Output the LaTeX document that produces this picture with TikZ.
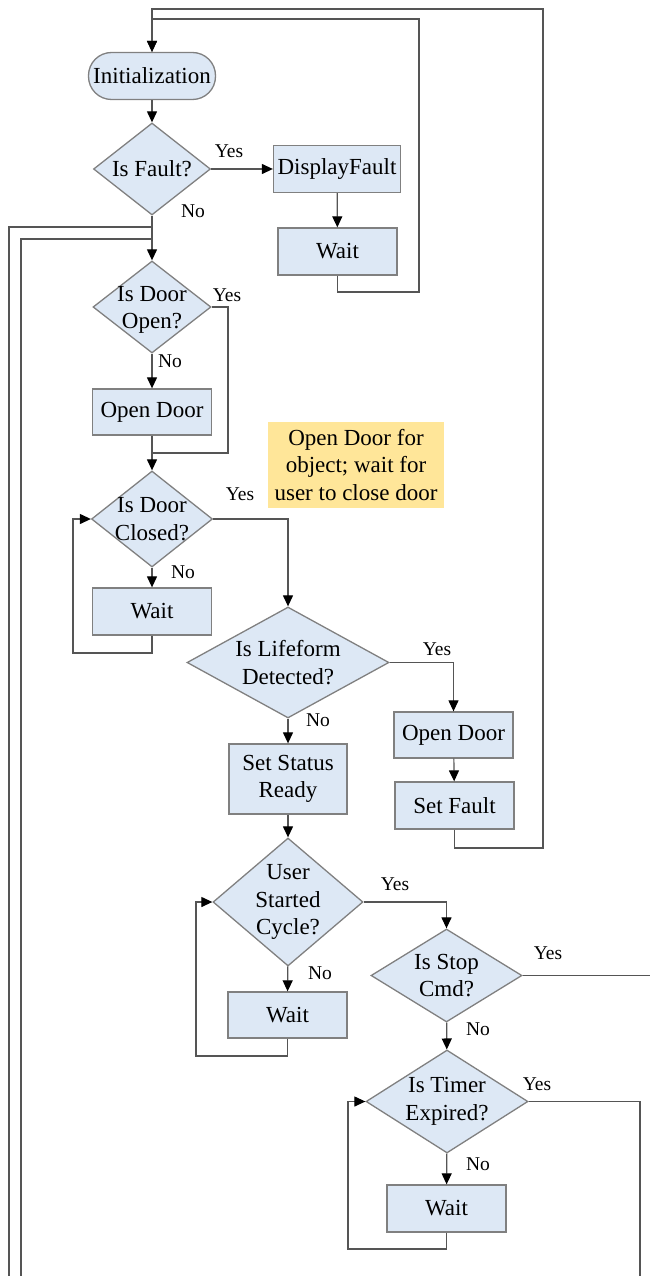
\documentclass[tikz,border=0pt]{standalone}
\usepackage{fontspec}
\setmainfont{Liberation Serif}
\usetikzlibrary{shapes.geometric,arrows.meta}
\definecolor{boxfill}{HTML}{DDE8F5}
\definecolor{boxline}{HTML}{808080}
\definecolor{wire}{HTML}{555555}
\definecolor{notefill}{HTML}{FFE699}
\begin{document}
\begin{tikzpicture}[x=1pt,y=-1pt,
  every node/.style={inner sep=0pt, font=\fontsize{23}{27.5}\selectfont},
  procbox/.style={rectangle, draw=boxline, fill=boxfill, line width=1.3pt,
    minimum width=119pt, minimum height=47pt, align=center},
  term/.style={rectangle, rounded corners=23pt, draw=boxline, fill=boxfill,
    line width=1.3pt, minimum width=127pt, minimum height=47pt},
  decision/.style={diamond, draw=boxline, fill=boxfill, line width=1.3pt},
  note/.style={rectangle, fill=notefill, minimum width=176pt, minimum height=86pt, align=center},
  answer/.style={font=\fontsize{19.5}{22}\selectfont},
  conn/.style={draw=wire, line width=1.2pt},
  arr/.style={conn, -{Triangle[length=11pt,width=10pt,color=black,fill=black]}}
]
\useasboundingbox (0,0) rectangle (649,1276);

% ---- nodes ----
\node[term] (init) at (152,76) {Initialization};
\node[decision, minimum width=117pt, minimum height=92pt,
  label={center:Is Fault?}] (fault) at (152,169) {};
\node[procbox, minimum width=127pt] (disp) at (337,169) {DisplayFault};
\node[procbox] (waitA) at (337.5,251.5) {Wait};

\node[decision, minimum width=118pt, minimum height=92pt,
  label={[align=center,yshift=-3pt]center:{Is Door\\Open?}}] (dopen) at (152,307) {};
\node[procbox, minimum height=46pt] (opendoor) at (152,412) {Open Door};
\node[decision, minimum width=121pt, minimum height=96pt,
  label={[align=center]center:{Is Door\\Closed?}}] (dclosed) at (152,519) {};
\node[procbox] (waitB) at (152,611.5) {Wait};

\node[note] (note) at (356,465) {Open Door for\\object; wait for\\user to close door};

\node[decision, minimum width=202pt, minimum height=111pt,
  label={[align=center]center:{Is Lifeform\\Detected?}}] (life) at (288,662.5) {};
\node[procbox, minimum width=118pt, minimum height=70pt] (ready) at (288,779) {Set Status\\Ready};
\node[procbox, minimum height=46pt] (opendoorB) at (453.5,735) {Open Door};
\node[procbox] (setfault) at (454.5,805.5) {Set Fault};

\node[decision, minimum width=150pt, minimum height=128pt,
  label={[align=center]center:{User\\Started\\Cycle?}}] (user) at (288,902) {};
\node[procbox, minimum height=46pt] (waitC) at (287.5,1015) {Wait};
\node[decision, minimum width=151pt, minimum height=93pt,
  label={[align=center]center:{Is Stop\\Cmd?}}] (stop) at (446.5,975.5) {};
\node[decision, minimum width=162pt, minimum height=103pt,
  label={[align=center]center:{Is Timer\\Expired?}}] (timer) at (447,1101.5) {};
\node[procbox] (waitD) at (446.5,1208.5) {Wait};

% ---- branch answers ----
\node[answer] (yFault) at (229,151) {Yes};
\node[answer] (nFault) at (193,211) {No};
\node[answer] (yOpen) at (227,295) {Yes};
\node[answer] (nOpen) at (170,361) {No};
\node[answer] (yClosed) at (240,494) {Yes};
\node[answer] (nClosed) at (183,572) {No};
\node[answer] (yLife) at (437,649) {Yes};
\node[answer] (nLife) at (318,720) {No};
\node[answer] (yUser) at (395,884) {Yes};
\node[answer] (nUser) at (320,973) {No};
\node[answer] (yStop) at (548,953) {Yes};
\node[answer] (nStop) at (478,1029) {No};
\node[answer] (yTimer) at (537,1084) {Yes};
\node[answer] (nTimer) at (478,1164) {No};

% ---- loose ends leaving the sheet ----
\coordinate (outA) at (9,1280);
\coordinate (outB) at (21,1280);
\coordinate (outC) at (652,975.5);
\coordinate (outD) at (640,1280);

% ---- connectors ----
\draw[arr] (init) -- (fault);
\draw[arr] (fault) -- (disp);
\draw[arr] (disp) -- (waitA);
\draw[arr] (fault) -- (dopen);
\draw[arr] (waitA.south) |- (419,292) -- (419,19) -| (init.north);
\draw[arr] (setfault.south) |- (543,848) -- (543,9) -| (init.north);
\draw[conn] (fault.south |- 0,227) -| (outA);
\draw[conn] (fault.south |- 0,239) -| (outB);

\draw[arr] (dopen) -- (opendoor);
\draw[arr] (opendoor) -- (dclosed);
\draw[conn] (dopen.east) -| (228,453) -- (dopen.south |- 0,453);
\draw[arr] (dclosed.east) -| (life.north);
\draw[arr] (dclosed) -- (waitB);
\draw[arr] (waitB.south) |- (73,653) |- (dclosed.west);

\draw[arr] (life.east) -| (opendoorB.north);
\draw[arr] (life) -- (ready);
\draw[arr] (opendoorB) -- (setfault);
\draw[arr] (ready) -- (user);

\draw[arr] (user.east) -| (stop.north);
\draw[arr] (user) -- (waitC);
\draw[arr] (waitC.south) |- (196,1056) |- (user.west);
\draw[conn] (stop.east) -- (outC);
\draw[arr] (stop) -- (timer);
\draw[conn] (timer.east) -| (outD);
\draw[arr] (timer) -- (waitD);
\draw[arr] (waitD.south) |- (348,1249) |- (timer.west);
\end{tikzpicture}
\end{document}
